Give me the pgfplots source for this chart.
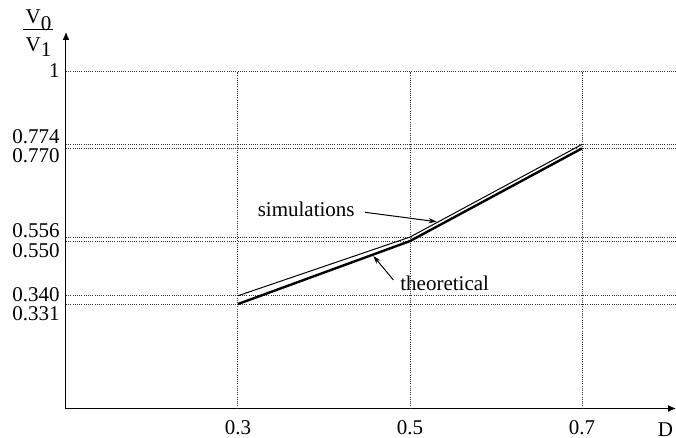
\documentclass[border=0pt]{standalone}
\usepackage{fontspec}
\setmainfont{Liberation Serif}
\usepackage{pgfplots}
\pgfplotsset{compat=1.18}
\usetikzlibrary{arrows.meta}
\newcommand\f{\fontsize{10.5bp}{12.6bp}\selectfont}
\tikzset{mygrid/.style={line width=0.5bp, dash pattern=on 0.5bp off 0.6bp, black!80}}
\begin{document}
\begin{tikzpicture}[font=\f]
\begin{axis}[
  at={(0,0)}, anchor=south west,
  scale only axis,
  width=305bp, height=188.25bp,
  xmin=0.1, xmax=0.8093,
  ymin=0, ymax=1.124,
  axis lines=left,
  axis line style={line width=0.5bp, -{Latex[length=4bp,width=3.5bp]}},
  y coord trafo/.code={\pgfmathparse{#1<=0.331 ? #1*0.9375 : (#1<=0.34 ? 0.3103+(#1-0.331)*2.733 : (#1<=0.55 ? 0.3349+(#1-0.34)*0.7733 : (#1<=0.556 ? 0.4973+(#1-0.55)*1.983 : (#1<=0.77 ? 0.5092+(#1-0.556)*1.2308 : (#1<=0.774 ? 0.7726+(#1-0.77)*2.95 : 0.7844+(#1-0.774)*0.954)))))}},
  ytick={0.331,0.340,0.550,0.556,0.770,0.774,1},
  yticklabels={
    \smash{\raisebox{-8bp}{0.331}},
    \smash{\raisebox{-2.8bp}{0.340}},
    \smash{\raisebox{-8bp}{0.550}},
    \smash{\raisebox{0bp}{0.556}},
    \smash{\raisebox{-7.3bp}{0.770}},
    \smash{\raisebox{0.4bp}{0.774}},
    \smash{\raisebox{-2.7bp}{1}}},
  xtick={0.3,0.5,0.7},
  xticklabels={0.3,0.5,0.7},
  major tick length=0pt,
  ymajorgrids,
  grid style={mygrid},
  tick label style={font=\f, inner sep=0pt},
  yticklabel style={anchor=east, xshift=-3bp},
  xticklabel style={anchor=north, yshift=-5.75bp},
  clip=false,
]
\draw[mygrid] (axis cs:0.3,0) -- (axis cs:0.3,1);
\draw[mygrid] (axis cs:0.5,0) -- (axis cs:0.5,1);
\draw[mygrid] (axis cs:0.7,0) -- (axis cs:0.7,1);
\addplot[black, line width=0.5bp] coordinates {(0.3,0.340) (0.5,0.556) (0.7,0.774)};
\addplot[black, line width=1.2bp] coordinates {(0.3,0.331) (0.5,0.550) (0.7,0.770)};
\end{axis}
\node[anchor=base east, inner sep=0pt] at (144.5bp,95.9bp) {simulations};
\draw[line width=0.5bp, -{Stealth[length=4bp,width=2.6bp]}] (149.5bp,98.1bp) -- (185.3bp,93.4bp);
\node[anchor=base west, inner sep=0pt] at (167bp,58.75bp) {theoretical};
\draw[line width=0.5bp, -{Stealth[length=4bp,width=2.6bp]}] (163.7bp,64.25bp) -- (153.7bp,76.25bp);
\node[anchor=base, inner sep=0pt] at (-13.75bp,192.25bp) {V\raisebox{-3.3bp}{0}};
\draw[line width=0.5bp] (-21.5bp,189.25bp) -- (-6.5bp,189.25bp);
\node[anchor=base, inner sep=0pt] at (-13.75bp,178.6bp) {V\raisebox{-2.8bp}{1}};
\node[anchor=base, inner sep=0pt] at (299.75bp,-14.2bp) {D};
\pgfresetboundingbox
\path[use as bounding box] (-33bp,-14.75bp) rectangle (305bp,204.25bp);
\end{tikzpicture}
\end{document}
